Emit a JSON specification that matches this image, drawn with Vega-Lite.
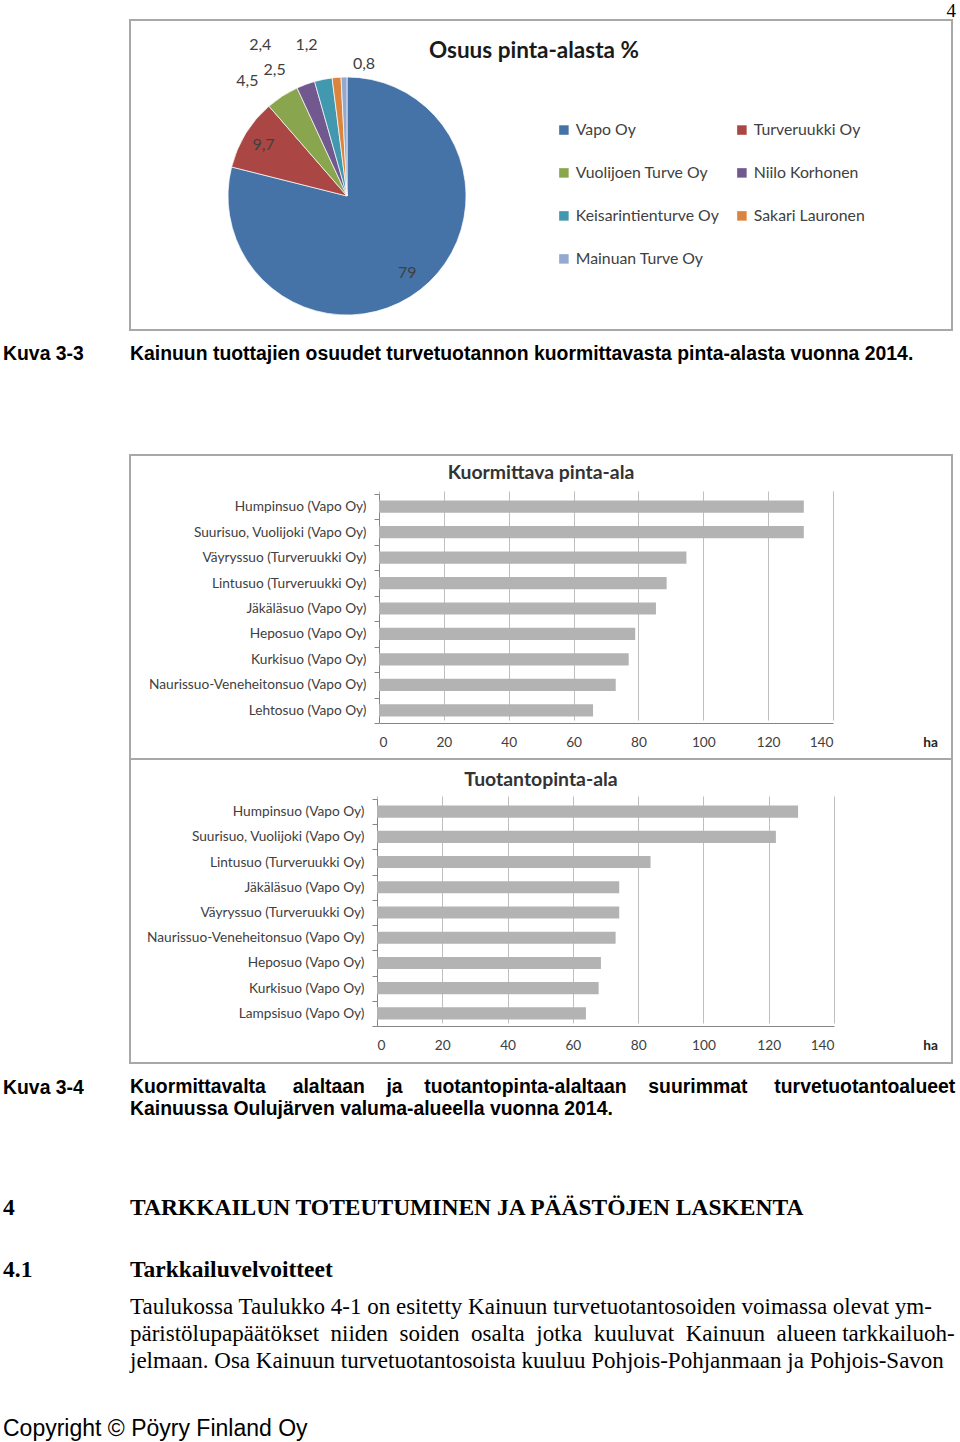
{
  "$schema": "https://vega.github.io/schema/vega-lite/v6.json",
  "padding": {"left": 3, "top": 2, "right": 4, "bottom": 0},
  "background": "white",
  "config": {"view": {"stroke": null}, "concat": {"spacing": 0}},
  "data": {"values": [{}]},
  "bounds": "flush",
  "spacing": 0,
  "vconcat": [
    {"width": 822, "height": 0.01, "mark": {"type": "text", "text": ""}, "encoding": {},
     "title": {"text": "4", "orient": "top", "anchor": "end", "frame": "group", "offset": 0, "baseline": "middle", "dy": 17, "dx": 4, "font": "Liberation Serif", "fontSize": 19, "fontWeight": "normal", "color": "#000"}},
    {
      "width": 822, "height": 310,
      "view": {"stroke": "#a8a8a8", "strokeWidth": 2},
      "title": {"text": "Osuus pinta-alasta %", "orient": "top", "anchor": "start", "frame": "group", "offset": 0, "baseline": "middle", "dy": 53, "dx": 299, "font": "Lato", "fontSize": 22.5, "fontWeight": "bold", "color": "#1a1a1a"},
      "data": {"values": [
        {"name": "Vapo Oy", "v": 79, "lab": "79", "i": 1},
        {"name": "Turveruukki Oy", "v": 9.7, "lab": "9,7", "i": 2},
        {"name": "Vuolijoen Turve Oy", "v": 4.5, "lab": "4,5", "i": 3},
        {"name": "Niilo Korhonen", "v": 2.5, "lab": "2,5", "i": 4},
        {"name": "Keisarintienturve Oy", "v": 2.4, "lab": "2,4", "i": 5},
        {"name": "Sakari Lauronen", "v": 1.2, "lab": "1,2", "i": 6},
        {"name": "Mainuan Turve Oy", "v": 0.8, "lab": "0,8", "i": 7}
      ]},
      "encoding": {
        "theta": {"field": "v", "type": "quantitative", "stack": true},
        "order": {"field": "i", "type": "quantitative"}
      },
      "layer": [
        {
          "mark": {"type": "arc", "x": 217, "y": 176, "outerRadius": 119, "stroke": "#ffffff", "strokeWidth": 0.7},
          "encoding": {
            "color": {"field": "name", "type": "nominal", "sort": null,
              "scale": {"domain": ["Vapo Oy", "Turveruukki Oy", "Vuolijoen Turve Oy", "Niilo Korhonen", "Keisarintienturve Oy", "Sakari Lauronen", "Mainuan Turve Oy"],
                        "range": ["#4572A7", "#AA4643", "#89A54E", "#71588F", "#4198AF", "#DB843D", "#93A9CF"]},
              "legend": {"title": null, "orient": "none", "legendX": 426, "legendY": 103, "direction": "horizontal", "columns": 2, "symbolType": "square", "symbolSize": 90, "symbolStrokeWidth": 0, "labelFont": "Lato", "labelFontSize": 15.8, "labelColor": "#404040", "rowPadding": 26, "columnPadding": 15, "labelOffset": 4, "labelLimit": 300}}
          }
        },
        {
          "mark": {"type": "text", "x": 217, "y": 176, "radius": 98, "font": "Lato", "fontSize": 16, "color": "#404040"},
          "encoding": {"detail": {"field": "name"}, "text": {"condition": {"test": "datum.v < 5", "value": ""}, "field": "lab"}}
        },
        {
          "mark": {"type": "text", "x": 217, "y": 176, "radius": 119, "dx": -35, "dy": -15, "font": "Lato", "fontSize": 16, "color": "#404040"},
          "encoding": {"detail": {"field": "name"}, "text": {"condition": {"test": "datum.name !== 'Vuolijoen Turve Oy'", "value": ""}, "field": "lab"}}
        },
        {
          "mark": {"type": "text", "x": 217, "y": 176, "radius": 119, "dx": -31, "dy": -14, "font": "Lato", "fontSize": 16, "color": "#404040"},
          "encoding": {"detail": {"field": "name"}, "text": {"condition": {"test": "datum.name !== 'Niilo Korhonen'", "value": ""}, "field": "lab"}}
        },
        {
          "mark": {"type": "text", "x": 217, "y": 176, "radius": 119, "dx": -63, "dy": -34, "font": "Lato", "fontSize": 16, "color": "#404040"},
          "encoding": {"detail": {"field": "name"}, "text": {"condition": {"test": "datum.name !== 'Keisarintienturve Oy'", "value": ""}, "field": "lab"}}
        },
        {
          "mark": {"type": "text", "x": 217, "y": 176, "radius": 119, "dx": -30, "dy": -32, "font": "Lato", "fontSize": 16, "color": "#404040"},
          "encoding": {"detail": {"field": "name"}, "text": {"condition": {"test": "datum.name !== 'Sakari Lauronen'", "value": ""}, "field": "lab"}}
        },
        {
          "mark": {"type": "text", "x": 217, "y": 176, "radius": 119, "dx": 20, "dy": -13, "font": "Lato", "fontSize": 16, "color": "#404040"},
          "encoding": {"detail": {"field": "name"}, "text": {"condition": {"test": "datum.name !== 'Mainuan Turve Oy'", "value": ""}, "field": "lab"}}
        }
      ]
    },
    {"width": 822, "height": 0.01, "mark": {"type": "text", "text": ""}, "encoding": {},
     "title": {"text": "Kuva 3-3", "orient": "top", "anchor": "start", "frame": "group", "offset": 0, "baseline": "middle", "dy": 49, "dx": -127, "font": "Liberation Sans", "fontSize": 19.4, "fontWeight": "bold", "color": "#000"}},
    {"width": 822, "height": 124, "mark": {"type": "text", "text": ""}, "encoding": {},
     "title": {"text": "Kainuun tuottajien osuudet turvetuotannon kuormittavasta pinta-alasta vuonna 2014.", "orient": "top", "anchor": "start", "frame": "group", "offset": 0, "baseline": "middle", "dy": 42, "font": "Liberation Sans", "fontSize": 19.4, "fontWeight": "bold", "color": "#000"}},
    {
      "width": 822, "height": 304,
      "view": {"stroke": "#a8a8a8", "strokeWidth": 2},
      "title": {"text": "Kuormittava pinta-ala", "orient": "top", "anchor": "middle", "frame": "group", "offset": 0, "baseline": "middle", "dy": 44, "font": "Lato", "fontSize": 19.4, "fontWeight": "bold", "color": "#333333"},
      "data": {"values": [
        {"suo": "Humpinsuo (Vapo Oy)", "ha": 131},
        {"suo": "Suurisuo, Vuolijoki (Vapo Oy)", "ha": 131},
        {"suo": "Väyryssuo (Turveruukki Oy)", "ha": 94.8},
        {"suo": "Lintusuo (Turveruukki Oy)", "ha": 88.7},
        {"suo": "Jäkäläsuo (Vapo Oy)", "ha": 85.4},
        {"suo": "Heposuo (Vapo Oy)", "ha": 79},
        {"suo": "Kurkisuo (Vapo Oy)", "ha": 77},
        {"suo": "Naurissuo-Veneheitonsuo (Vapo Oy)", "ha": 73},
        {"suo": "Lehtosuo (Vapo Oy)", "ha": 66}
      ]},
      "mark": {"type": "bar", "color": "#b3b3b3", "height": {"band": 0.48}},
      "encoding": {
        "y": {"field": "suo", "type": "nominal", "sort": null,
              "scale": {"range": [39, 268], "paddingInner": 0, "paddingOuter": 0},
              "axis": {"title": null, "offset": -249, "ticks": true, "tickBand": "extent", "tickSize": 5, "tickColor": "#868686", "labelPadding": 8, "domainColor": "#868686", "labelFont": "Lato", "labelFontSize": 13.7, "labelColor": "#404040", "labelLimit": 400}},
        "x": {"field": "ha", "type": "quantitative",
              "scale": {"domain": [0, 140], "range": [249, 703], "nice": false, "zero": true},
              "axis": {"values": [0, 20, 40, 60, 80, 100, 120, 140], "offset": -36, "grid": true, "gridColor": "#bfbfbf", "ticks": false, "domainColor": "#868686", "labelPadding": 12, "labelFont": "Lato", "labelFontSize": 13.7, "labelColor": "#404040",
                       "title": "ha", "titleX": 800, "titleY": 19, "titleBaseline": "middle", "titleAlign": "center", "titleFont": "Lato", "titleFontSize": 13.7, "titleFontWeight": "bold", "titleColor": "#262626"}}
      }
    },
    {
      "width": 822, "height": 304,
      "view": {"stroke": "#a8a8a8", "strokeWidth": 2},
      "title": {"text": "Tuotantopinta-ala", "orient": "top", "anchor": "middle", "frame": "group", "offset": 0, "baseline": "middle", "dy": 47, "font": "Lato", "fontSize": 19.4, "fontWeight": "bold", "color": "#333333"},
      "data": {"values": [
        {"suo": "Humpinsuo (Vapo Oy)", "ha": 129},
        {"suo": "Suurisuo, Vuolijoki (Vapo Oy)", "ha": 122.2},
        {"suo": "Lintusuo (Turveruukki Oy)", "ha": 83.8},
        {"suo": "Jäkäläsuo (Vapo Oy)", "ha": 74.2},
        {"suo": "Väyryssuo (Turveruukki Oy)", "ha": 74.2},
        {"suo": "Naurissuo-Veneheitonsuo (Vapo Oy)", "ha": 73.1},
        {"suo": "Heposuo (Vapo Oy)", "ha": 68.6},
        {"suo": "Kurkisuo (Vapo Oy)", "ha": 67.9},
        {"suo": "Lampsisuo (Vapo Oy)", "ha": 64}
      ]},
      "mark": {"type": "bar", "color": "#b3b3b3", "height": {"band": 0.48}},
      "encoding": {
        "y": {"field": "suo", "type": "nominal", "sort": null,
              "scale": {"range": [40, 267], "paddingInner": 0, "paddingOuter": 0},
              "axis": {"title": null, "offset": -247, "ticks": true, "tickBand": "extent", "tickSize": 5, "tickColor": "#868686", "labelPadding": 8, "domainColor": "#868686", "labelFont": "Lato", "labelFontSize": 13.7, "labelColor": "#404040", "labelLimit": 400}},
        "x": {"field": "ha", "type": "quantitative",
              "scale": {"domain": [0, 140], "range": [247, 704], "nice": false, "zero": true},
              "axis": {"values": [0, 20, 40, 60, 80, 100, 120, 140], "offset": -37, "grid": true, "gridColor": "#bfbfbf", "ticks": false, "domainColor": "#868686", "labelPadding": 12, "labelFont": "Lato", "labelFontSize": 13.7, "labelColor": "#404040",
                       "title": "ha", "titleX": 800, "titleY": 19, "titleBaseline": "middle", "titleAlign": "center", "titleFont": "Lato", "titleFontSize": 13.7, "titleFontWeight": "bold", "titleColor": "#262626"}}
      }
    },
    {"width": 822, "height": 0.01, "mark": {"type": "text", "text": ""}, "encoding": {},
     "title": {"text": "Kuva 3-4", "orient": "top", "anchor": "start", "frame": "group", "offset": 0, "baseline": "middle", "dy": 50, "dx": -127, "font": "Liberation Sans", "fontSize": 19.4, "fontWeight": "bold", "color": "#000"}},
    {"width": 822, "height": 128, "mark": {"type": "text", "text": ""}, "encoding": {},
     "title": {"text": ["Kuormittavalta \u00a0\u00a0\u00a0\u00a0alaltaan \u00a0\u00a0\u00a0ja \u00a0\u00a0\u00a0tuotantopinta-alaltaan \u00a0\u00a0\u00a0suurimmat \u00a0\u00a0\u00a0\u00a0turvetuotantoalueet", "Kainuussa Oulujärven valuma-alueella vuonna 2014."], "lineHeight": 22, "orient": "top", "anchor": "start", "frame": "group", "offset": 0, "baseline": "top", "dy": 55, "font": "Liberation Sans", "fontSize": 19.4, "fontWeight": "bold", "color": "#000"}},
    {"width": 822, "height": 0.01, "mark": {"type": "text", "text": ""}, "encoding": {},
     "title": {"text": "4", "orient": "top", "anchor": "start", "frame": "group", "offset": 0, "baseline": "middle", "dy": 45, "dx": -127, "font": "Liberation Serif", "fontSize": 23.5, "fontWeight": "bold", "color": "#000"}},
    {"width": 822, "height": 60, "mark": {"type": "text", "text": ""}, "encoding": {},
     "title": {"text": "TARKKAILUN TOTEUTUMINEN JA PÄÄSTÖJEN LASKENTA", "orient": "top", "anchor": "start", "frame": "group", "offset": 0, "baseline": "middle", "dy": 38, "font": "Liberation Serif", "fontSize": 23.5, "fontWeight": "bold", "color": "#000"}},
    {"width": 822, "height": 0.01, "mark": {"type": "text", "text": ""}, "encoding": {},
     "title": {"text": "4.1", "orient": "top", "anchor": "start", "frame": "group", "offset": 0, "baseline": "middle", "dy": 46, "dx": -127, "font": "Liberation Serif", "fontSize": 23.5, "fontWeight": "bold", "color": "#000"}},
    {"width": 822, "height": 40, "mark": {"type": "text", "text": ""}, "encoding": {},
     "title": {"text": "Tarkkailuvelvoitteet", "orient": "top", "anchor": "start", "frame": "group", "offset": 0, "baseline": "middle", "dy": 39, "font": "Liberation Serif", "fontSize": 23.5, "fontWeight": "bold", "color": "#000"}},
    {"width": 822, "height": 0.01, "mark": {"type": "text", "text": ""}, "encoding": {},
     "title": {"text": "Copyright © Pöyry Finland Oy", "orient": "top", "anchor": "start", "frame": "group", "offset": 0, "baseline": "middle", "dy": 164, "dx": -127, "font": "Liberation Sans", "fontSize": 23, "fontWeight": "normal", "color": "#000"}},
    {"width": 822, "height": 152, "mark": {"type": "text", "text": ""}, "encoding": {},
     "title": {"text": ["Taulukossa Taulukko 4-1 on esitetty Kainuun turvetuotantosoiden voimassa olevat ym-", "päristölupapäätökset \u00a0niiden \u00a0soiden \u00a0osalta \u00a0jotka \u00a0kuuluvat \u00a0Kainuun \u00a0alueen tarkkailuoh-", "jelmaan. Osa Kainuun turvetuotantosoista kuuluu Pohjois-Pohjanmaan ja Pohjois-Savon"], "lineHeight": 27, "orient": "top", "anchor": "start", "frame": "group", "offset": 0, "baseline": "top", "dy": 78, "font": "Liberation Serif", "fontSize": 23, "fontWeight": "normal", "color": "#000"}}
  ]
}
